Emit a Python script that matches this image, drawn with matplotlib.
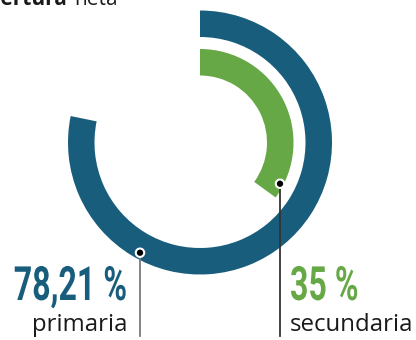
import numpy as np
import matplotlib.pyplot as plt
from matplotlib.patches import Wedge, Circle
from matplotlib.patheffects import AbstractPathEffect
from matplotlib.transforms import Affine2D

# coverage values (percent) and labels
categorias = ["primaria", "secundaria"]
valores = [78.21, 35]
etiquetas = ["78,21 %", "35 %"]
colores = ["#195d7c", "#66a845"]

W, H = 416, 340
cx, cy = 200, 142.5
radios = [132, 93.5]
grosor = 26.5


class Estrecho(AbstractPathEffect):
    """Squeeze text horizontally around a fixed x (display coords)."""
    def __init__(self, x0, sx):
        super().__init__()
        self.x0 = x0
        self.sx = sx

    def draw_path(self, renderer, gc, tpath, affine, rgbFace=None):
        t = affine + Affine2D().translate(-self.x0, 0).scale(self.sx, 1).translate(self.x0, 0)
        renderer.draw_path(gc, tpath, t, rgbFace)


fig = plt.figure(figsize=(W / 100, H / 100), dpi=100)
ax = fig.add_axes([0, 0, 1, 1])
ax.set_xlim(0, W)
ax.set_ylim(H, 0)
ax.set_aspect("equal")
ax.axis("off")

# rings: y axis points down, so positive theta runs clockwise from the top
for v, r, c in zip(valores, radios, colores):
    ax.add_patch(Wedge((cx, cy), r, -90, -90 + 360 * v / 100,
                       width=grosor, facecolor=c, edgecolor="none"))

# leader lines with dots
linea_x = [140, 280]
radio_punto = [125.5, 90]
color_linea = ["#7a7a7a", "#333333"]
for x, rp, cl in zip(linea_x, radio_punto, color_linea):
    y = cy + np.sqrt(rp ** 2 - (x - cx) ** 2)
    ax.plot([x, x], [y, 336], color=cl, lw=1.3, zorder=3)
    ax.add_patch(Circle((x, y), 4.2, facecolor="black", edgecolor="white",
                        lw=1.5, zorder=4))

num_font = ["Roboto", "DejaVu Sans"]
lab_font = ["Open Sans", "DejaVu Sans"]


def numero(x, y, s, ha, color):
    x0 = ax.transData.transform((x, y))[0]
    ax.text(x, y, s, ha=ha, va="baseline", fontsize=34, fontweight="bold",
            color=color, family=num_font,
            path_effects=[Estrecho(x0, 0.68)])


# value and category labels
numero(127, 300, etiquetas[0], "right", colores[0])
ax.text(127, 331, categorias[0], ha="right", va="baseline", fontsize=17.3,
        color="#1a1a1a", family=lab_font)
numero(290, 300, etiquetas[1], "left", colores[1])
ax.text(290, 331, categorias[1], ha="left", va="baseline", fontsize=17.3,
        color="#1a1a1a", family=lab_font)

# title, mostly above the visible area
ax.text(68, 5, "Cobertura", ha="right", va="baseline", fontsize=15,
        fontweight="bold", color="#1a1a1a", family=lab_font)
ax.text(74, 5, "neta", ha="left", va="baseline", fontsize=15,
        color="#1a1a1a", family=lab_font)

fig.savefig("out.png", dpi=100)
